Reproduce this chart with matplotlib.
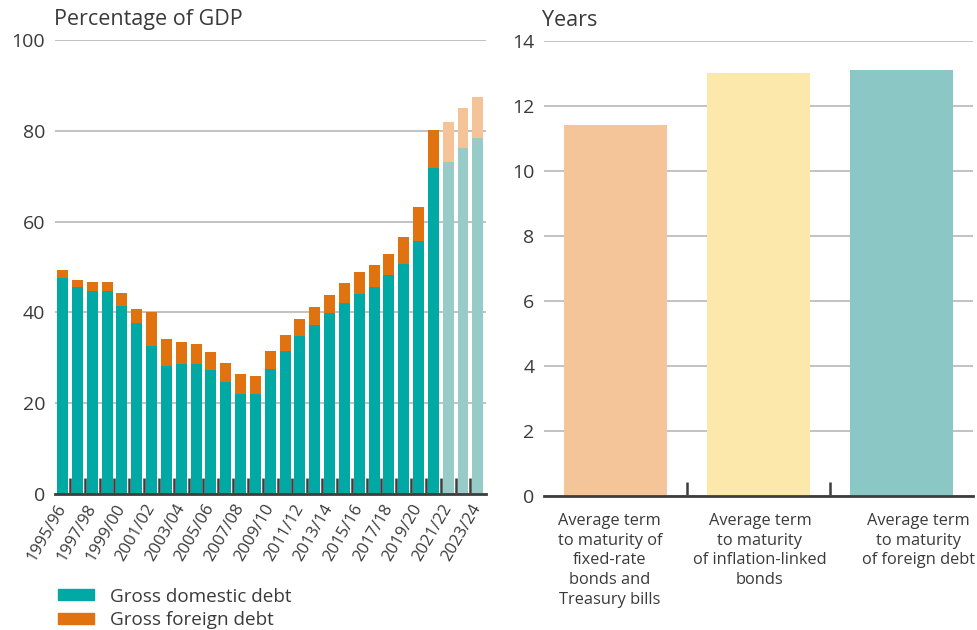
import numpy as np
import matplotlib.pyplot as plt
from matplotlib.patches import Patch
from matplotlib.ticker import FixedLocator

plt.rcParams['font.family'] = ['Open Sans', 'DejaVu Sans']

TEXT = '#3a3a3a'
AXIS = '#3d3d3d'
GRID = '#b8b8b8'

years = ['1995/96', '1996/97', '1997/98', '1998/99', '1999/00', '2000/01',
         '2001/02', '2002/03', '2003/04', '2004/05', '2005/06', '2006/07',
         '2007/08', '2008/09', '2009/10', '2010/11', '2011/12', '2012/13',
         '2013/14', '2014/15', '2015/16', '2016/17', '2017/18', '2018/19',
         '2019/20', '2020/21', '2021/22', '2022/23', '2023/24']
domestic = [47.6, 45.6, 44.7, 44.7, 41.5, 37.7, 32.6, 28.3, 28.7, 28.7,
            27.4, 24.7, 22.1, 22.1, 27.5, 31.5, 34.9, 37.2, 39.9, 42.1,
            44.1, 45.6, 48.2, 50.7, 55.7, 71.9, 73.2, 76.3, 78.5]
foreign = [1.7, 1.5, 2.0, 2.0, 2.8, 3.0, 7.5, 5.8, 4.8, 4.3,
           3.9, 4.2, 4.3, 3.9, 4.1, 3.5, 3.6, 4.0, 4.0, 4.4,
           4.8, 4.8, 4.7, 5.9, 7.5, 8.3, 8.7, 8.7, 8.9]
first_projection = '2021/22'

maturity_labels = ['Average term\nto maturity of\nfixed-rate\nbonds and\nTreasury bills',
                   'Average term\nto maturity\nof inflation-linked\nbonds',
                   'Average term\nto maturity\nof foreign debt']
maturity_years = [11.42, 13.02, 13.11]

dom_col, for_col = '#00a9a4', '#e0730f'
dom_proj, for_proj = '#96cbc8', '#f4c397'
maturity_colors = ['#f3c598', '#fde8ab', '#8bc8c5']

fig = plt.figure(figsize=(9.78, 6.3), dpi=100)
W, H = 978, 630
ax1 = fig.add_axes([55 / W, (H - 494) / H, (486 - 55) / W, (494 - 40) / H])
ax2 = fig.add_axes([544 / W, (H - 496) / H, (973 - 544) / W, (496 - 41) / H])

# --- debt stock, stacked bars ---
x = np.arange(len(years))
proj = x >= years.index(first_projection)
ax1.bar(x, domestic, width=0.74, color=np.where(proj, dom_proj, dom_col), zorder=2)
ax1.bar(x, foreign, bottom=domestic, width=0.74,
        color=np.where(proj, for_proj, for_col), zorder=2)
ax1.set_xlim(-0.51, 28.55)
ax1.set_ylim(0, 100)
ax1.set_yticks(range(0, 101, 20))
ax1.set_xticks(x[::2])
ax1.set_xticklabels(years[::2], rotation=60, ha='right', va='center',
                    rotation_mode='anchor', fontsize=12, color=TEXT)
ax1.xaxis.set_minor_locator(FixedLocator(x[:-1] + 0.5))
ax1.tick_params(axis='x', which='major', length=0, pad=8)
ax1.tick_params(axis='x', which='minor', direction='in', length=11.5,
                width=1.8, color=AXIS)

# --- average term to maturity ---
xm = np.arange(len(maturity_years))
ax2.bar(xm, maturity_years, width=0.727, color=maturity_colors, zorder=2)
ax2.set_xlim(-0.5, 2.5)
ax2.set_ylim(0, 14)
ax2.set_yticks(range(0, 15, 2))
ax2.set_xticks([])
ax2.xaxis.set_minor_locator(FixedLocator(xm[:-1] + 0.5))
ax2.tick_params(axis='x', which='minor', direction='in', length=10,
                width=1.8, color=AXIS)
label_shift = [-0.04, 0.01, 0.12]
for xi, lab, dx in zip(xm, maturity_labels, label_shift):
    ax2.text(xi + dx, -0.038, lab, transform=ax2.get_xaxis_transform(),
             ha='center', va='top', fontsize=11.8, color=TEXT, linespacing=1.3)

for ax in (ax1, ax2):
    for s in ('top', 'right', 'left'):
        ax.spines[s].set_visible(False)
    ax.spines['bottom'].set_color(AXIS)
    ax.spines['bottom'].set_linewidth(2)
    ax.spines['bottom'].set_zorder(3)
    ax.grid(axis='y', color=GRID, linewidth=1.2, zorder=0)
    ax.set_axisbelow(True)
    ax.tick_params(axis='y', length=0, pad=7, labelsize=14, labelcolor=TEXT)

fig.text(54 / W, 1 - 20 / H, 'Percentage of GDP', fontsize=15.5, color=TEXT, va='center')
fig.text(542 / W, 1 - 20 / H, 'Years', fontsize=15.5, color=TEXT, va='center')

handles = [Patch(color=dom_col, label='Gross domestic debt'),
           Patch(color=for_col, label='Gross foreign debt')]
fig.legend(handles=handles, loc='upper left', bbox_to_anchor=(50 / W, 1 - 580 / H),
           frameon=False, fontsize=13.6, handlelength=1.95, handleheight=0.5,
           handletextpad=0.8, labelspacing=0.3, borderaxespad=0,
           labelcolor=TEXT)

fig.savefig('out.png', dpi=100)
